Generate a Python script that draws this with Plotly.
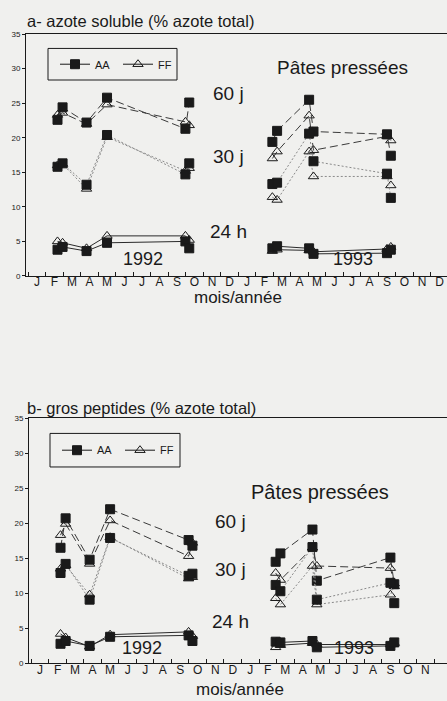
import plotly.graph_objects as go

# ---------------- data ----------------
months = ["J", "F", "M", "A", "M", "J", "J", "A", "S", "O", "N", "D"] * 2
month_pos = [i + 0.5 for i in range(24)]          # label centres (month index, 0 = Jan 1992)
y_ticks = [0, 5, 10, 15, 20, 25, 30, 35]

# sampling dates (fractional month index)
x92 = [1.67, 1.96, 3.33, 4.50, 8.98, 9.20]
x93 = [13.95, 14.22, 16.05, 16.30, 20.50, 20.72]

# a- azote soluble (% azote total)
a_AA_60_92 = [22.6, 24.4, 22.2, 25.8, 21.3, 25.1]
a_FF_60_92 = [23.3, 23.6, 22.0, 24.8, 22.3, 21.8]
a_AA_30_92 = [15.8, 16.3, 13.2, 20.4, 14.7, 16.3]
a_FF_30_92 = [16.0, 16.2, 12.6, 20.1, 15.2, 15.6]
a_AA_24_92 = [3.8, 4.2, 3.6, 4.8, 5.0, 4.0]
a_FF_24_92 = [5.0, 4.8, 4.0, 5.8, 5.8, 5.2]

a_AA_60_93 = [19.4, 21.0, 25.5, 20.9, 20.5, 17.4]
a_FF_60_93 = [17.0, 18.0, 23.2, 18.2, 20.2, 19.6]
a_AA_30_93 = [13.3, 13.5, 20.6, 16.6, 14.8, 11.3]
a_FF_30_93 = [11.4, 11.0, 18.0, 14.4, 14.4, 13.1]
a_AA_24_93 = [4.0, 4.3, 4.0, 3.2, 3.3, 3.8]
a_FF_24_93 = [3.6, 3.8, 3.7, 3.5, 3.9, 4.2]

# b- gros peptides (% azote total)
b_AA_60_92 = [16.5, 20.7, 14.8, 22.0, 17.6, 16.8]
b_FF_60_92 = [18.3, 19.9, 14.2, 20.4, 15.3, 17.2]
b_AA_30_92 = [12.9, 14.2, 9.1, 17.9, 12.5, 12.8]
b_FF_30_92 = [13.5, 14.0, 9.8, 18.0, 12.1, 12.3]
b_AA_24_92 = [2.8, 3.2, 2.5, 3.8, 4.0, 3.2]
b_FF_24_92 = [4.2, 3.7, 2.4, 4.1, 4.5, 3.9]

b_AA_60_93 = [14.5, 15.7, 19.1, 11.8, 15.1, 11.3]
b_FF_60_93 = [12.9, 11.9, 16.5, 13.9, 13.6, 11.4]
b_AA_30_93 = [11.2, 10.3, 16.6, 9.1, 11.5, 8.6]
b_FF_30_93 = [9.3, 8.4, 13.9, 8.4, 9.8, 11.0]
b_AA_24_93 = [3.1, 3.0, 3.2, 2.3, 2.5, 3.0]
b_FF_24_93 = [2.3, 2.6, 2.9, 2.7, 2.7, 2.9]

series = [
    # panel, product, age, x, y
    ("a", "FF", "60", x92, a_FF_60_92), ("a", "AA", "60", x92, a_AA_60_92),
    ("a", "FF", "30", x92, a_FF_30_92), ("a", "AA", "30", x92, a_AA_30_92),
    ("a", "FF", "24", x92, a_FF_24_92), ("a", "AA", "24", x92, a_AA_24_92),
    ("a", "FF", "60", x93, a_FF_60_93), ("a", "AA", "60", x93, a_AA_60_93),
    ("a", "FF", "30", x93, a_FF_30_93), ("a", "AA", "30", x93, a_AA_30_93),
    ("a", "FF", "24", x93, a_FF_24_93), ("a", "AA", "24", x93, a_AA_24_93),
    ("b", "FF", "60", x92, b_FF_60_92), ("b", "AA", "60", x92, b_AA_60_92),
    ("b", "FF", "30", x92, b_FF_30_92), ("b", "AA", "30", x92, b_AA_30_92),
    ("b", "FF", "24", x92, b_FF_24_92), ("b", "AA", "24", x92, b_AA_24_92),
    ("b", "FF", "60", x93, b_FF_60_93), ("b", "AA", "60", x93, b_AA_60_93),
    ("b", "FF", "30", x93, b_FF_30_93), ("b", "AA", "30", x93, b_AA_30_93),
    ("b", "FF", "24", x93, b_FF_24_93), ("b", "AA", "24", x93, b_AA_24_93),
]

BG = "#f0f0ee"
INK = "#1a1a1a"
FONT = "Liberation Sans, Arial, sans-serif"

line_style = {
    "60": dict(color="#3a3a3a", width=1, dash="8px,4px"),
    "30": dict(color="#8a8a8a", width=1, dash="2px,2px"),
    "24": dict(color="#2a2a2a", width=1, dash="solid"),
}
marker_style = {
    "AA": dict(symbol="square", size=9, color=INK, line=dict(color=INK, width=1)),
    "FF": dict(symbol="triangle-up-open", size=9, color=INK, line=dict(color=INK, width=1)),
}

fig = go.Figure()
for panel, prod, age, xs, ys in series:
    fig.add_trace(go.Scatter(
        x=xs, y=ys, mode="lines+markers",
        xaxis="x" if panel == "a" else "x2",
        yaxis="y" if panel == "a" else "y2",
        line=line_style[age], marker=marker_style[prod],
        showlegend=False, hoverinfo="skip",
    ))

# legend entries
for leg, xa, ya in (("legend", "x", "y"), ("legend2", "x2", "y2")):
    for prod in ("AA", "FF"):
        fig.add_trace(go.Scatter(
            x=[None], y=[None], mode="lines+markers", name=prod,
            xaxis=xa, yaxis=ya, legend=leg,
            line=dict(color=INK, width=1), marker=marker_style[prod],
            showlegend=True,
        ))

W, H = 447, 701

def xaxis(domain, rng):
    return dict(
        domain=domain, range=rng, tickmode="array", tickvals=month_pos, ticktext=months,
        ticks="", showgrid=False, zeroline=False, showline=True, linecolor=INK,
        linewidth=1, mirror=True, ticklabelstandoff=-5,
        tickfont=dict(family=FONT, size=12, color=INK),
        minor=dict(ticks="inside", tick0=0, dtick=1, ticklen=4, tickcolor=INK, showgrid=False),
    )

def yaxis(domain, anchor):
    return dict(
        domain=domain, range=[0, 35], tickmode="array", tickvals=y_ticks,
        ticks="outside", ticklen=3, tickcolor=INK, showgrid=False, zeroline=False,
        showline=True, linecolor=INK, linewidth=1, anchor=anchor,
        tickfont=dict(family=FONT, size=8, color=INK),
    )

xa1 = xaxis([26 / W, 1], [-0.13, 23.93]); xa1["anchor"] = "y"
xa2 = xaxis([29 / W, 1], [-0.13, 23.73]); xa2["anchor"] = "y2"

legend_common = dict(orientation="h", xanchor="left", yanchor="middle",
                     borderwidth=0, bgcolor="rgba(0,0,0,0)",
                     font=dict(family=FONT, size=11, color=INK), itemwidth=30,
                     entrywidth=18, entrywidthmode="pixels")

fig.update_layout(
    width=W, height=H,
    margin=dict(l=0, r=0, t=0, b=0),
    paper_bgcolor=BG, plot_bgcolor=BG,
    font=dict(family=FONT, color=INK),
    xaxis=xa1, yaxis=yaxis([1 - 275.5 / H, 1 - 30.5 / H], "x"),
    xaxis2=xa2, yaxis2=yaxis([1 - 668 / H, 1 - 419.5 / H], "x2"),
    legend=dict(x=55 / W, y=1 - 61 / H, **legend_common),
    legend2=dict(x=57 / W, y=1 - 452 / H, **legend_common),
    shapes=[
        dict(type="rect", xref="paper", yref="paper", x0=48 / W, x1=177 / W,
             y0=1 - 77 / H, y1=1 - 45 / H, line=dict(color=INK, width=1)),
        dict(type="rect", xref="paper", yref="paper", x0=50 / W, x1=180 / W,
             y0=1 - 469 / H, y1=1 - 435 / H, line=dict(color=INK, width=1)),
    ],
)

ann = []
def txt(text, x, y, size, xref, yref, xanchor="center"):
    ann.append(dict(text=text, x=x, y=y, xref=xref, yref=yref, showarrow=False,
                    xanchor=xanchor, yanchor="middle",
                    font=dict(family=FONT, size=size, color=INK)))

# titles
txt("a- azote soluble (% azote total)", 25 / W, 1 - 17 / H, 16.5, "paper", "paper", "left")
txt("b- gros peptides (% azote total)", 25 / W, 1 - 409 / H, 16.5, "paper", "paper", "left")
txt("mois/année", 238 / W, 1 - 297 / H, 17, "paper", "paper")
txt("mois/année", 240 / W, 1 - 694 / H, 17, "paper", "paper")

# panel a labels
txt("Pâtes pressées", 17.97, 30.1, 19, "x", "y")
txt("60 j", 11.46, 26.4, 19, "x", "y")
txt("30 j", 11.46, 17.3, 19, "x", "y")
txt("24 h", 11.44, 6.4, 19, "x", "y")
txt("1992", 6.55, 2.4, 18, "x", "y")
txt("1993", 18.54, 2.4, 18, "x", "y")
# panel b labels
txt("Pâtes pressées", 16.48, 24.4, 20, "x2", "y2")
txt("60 j", 11.35, 20.2, 19, "x2", "y2")
txt("30 j", 11.35, 13.4, 19, "x2", "y2")
txt("24 h", 11.35, 6.0, 19, "x2", "y2")
txt("1992", 6.32, 2.25, 18, "x2", "y2")
txt("1993", 18.4, 2.25, 18, "x2", "y2")

fig.update_layout(annotations=ann)
fig.write_html("out.html")
